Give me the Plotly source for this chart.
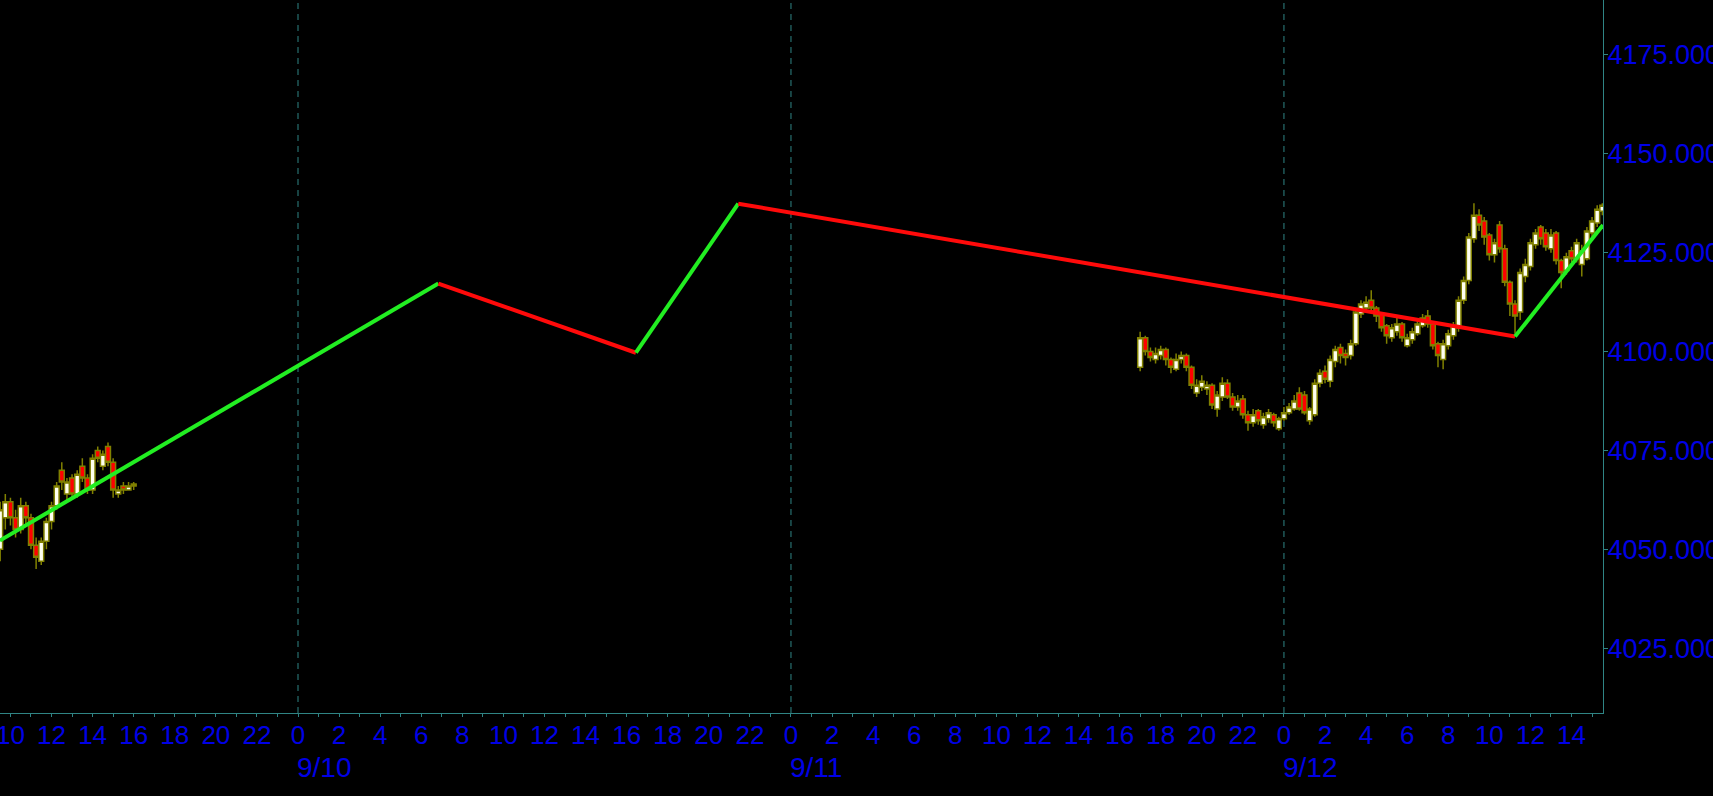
import pandas as pd
import plotly.graph_objects as go

# --------------------------------------
# Data (15 minute bars)
# --------------------------------------

# Friday 9/9 session, first bar 09:30
fri_start = "2022-09-09 09:30"
fri_open = [4050, 4058, 4062, 4058, 4055, 4061, 4058, 4051, 4047, 4052, 4057, 4061, 4070, 4064,
            4068, 4064, 4071, 4068, 4065, 4075, 4071, 4076, 4072, 4064, 4066, 4065, 4066]
fri_high = [4062, 4064, 4063, 4060, 4063, 4062, 4059, 4053, 4053, 4058, 4062, 4067, 4072, 4068,
            4069, 4070, 4073, 4069, 4074, 4076, 4075, 4077, 4073, 4066, 4067, 4067, 4067]
fri_low = [4047, 4055, 4056, 4053, 4054, 4056, 4050, 4045, 4046, 4050, 4055, 4060, 4065, 4062,
           4063, 4063, 4067, 4064, 4064, 4072, 4070, 4071, 4063, 4063, 4064, 4065, 4065]
fri_close = [4060, 4062, 4058, 4055, 4061, 4058, 4051, 4048, 4052, 4057, 4061, 4066, 4067, 4067,
             4064, 4069, 4068, 4065, 4073, 4073, 4074, 4072, 4065, 4065, 4065, 4066, 4066.5]

# Sunday 9/11 evening -> Monday 9/12, first bar 17:00
mon_start = "2022-09-11 17:00"
mon_open = [4096, 4103.5, 4100, 4098, 4099, 4100.5, 4098, 4095.5, 4098, 4099,
            4096, 4089.5, 4091, 4090.5, 4091.5, 4085.5, 4088.5, 4092, 4088.5, 4086,
            4088, 4084, 4082, 4085, 4081.5, 4083, 4084, 4080.5, 4083, 4084.5,
            4085.5, 4089.5, 4089, 4082.5, 4084, 4092, 4095, 4092.5, 4097.5, 4101,
            4099.5, 4099, 4102, 4109.5, 4111, 4113, 4111, 4109.5, 4106.5, 4103.5,
            4105, 4107, 4101.5, 4103, 4104.5, 4106.5, 4109, 4107, 4102, 4098,
            4101.5, 4104, 4106, 4113, 4118, 4128.5, 4134.5, 4133, 4129.5, 4124.5,
            4132, 4126, 4117.5, 4112, 4110, 4119, 4121.5, 4127, 4131.5, 4130,
            4126, 4130, 4123, 4120.5, 4125.5, 4123.5, 4122, 4123.5, 4130, 4132.5,
            4135.5]
mon_high = [4105, 4104, 4101, 4101, 4101.5, 4101, 4098.5, 4099.5, 4100, 4099.5,
            4096.5, 4093, 4094, 4092.5, 4092, 4090, 4093.5, 4093, 4089.5, 4089,
            4089, 4085, 4085.5, 4085.5, 4084.5, 4085.5, 4084.5, 4083.5, 4086, 4087,
            4089, 4091, 4090, 4086, 4093, 4095.5, 4096.5, 4099, 4101.5, 4102,
            4100.5, 4103, 4110.5, 4113, 4114, 4115.5, 4111.5, 4110, 4107, 4107,
            4108.5, 4107.5, 4104.5, 4106, 4108, 4109.5, 4110.5, 4107.5, 4102.5, 4103,
            4105.5, 4107.5, 4114, 4119, 4130, 4137.5, 4136, 4134, 4130, 4128.5,
            4133, 4127, 4118, 4113, 4121, 4123.5, 4128.5, 4131, 4132, 4131,
            4131, 4130.5, 4123.5, 4125, 4126.5, 4128.5, 4127, 4131.5, 4134, 4137,
            4137.5]
mon_low = [4095, 4099, 4097.5, 4097, 4098, 4096.5, 4094.5, 4095, 4097, 4095,
           4090.5, 4088.5, 4090, 4089, 4085.5, 4083.5, 4087.5, 4088, 4085, 4085,
           4083, 4080, 4081, 4081.5, 4080.5, 4082, 4081, 4080, 4082.5, 4084,
           4085, 4085, 4084, 4081.5, 4083.5, 4091, 4092, 4091, 4096, 4097,
           4096.5, 4098, 4101.5, 4108.5, 4110, 4110, 4107.5, 4105, 4102, 4102.5,
           4104, 4102.5, 4101, 4102, 4104, 4106, 4106, 4100.5, 4096, 4095.5,
           4100.5, 4103, 4105, 4112, 4117, 4127.5, 4130.5, 4127, 4123, 4122.5,
           4125, 4116.5, 4109, 4104.5, 4108, 4117.5, 4120.5, 4126, 4127, 4125.5,
           4125, 4122, 4116, 4119.5, 4122.5, 4122.5, 4119, 4123, 4129, 4131.5,
           4134.5]
mon_close = [4103.5, 4100, 4098.5, 4099.5, 4100.5, 4098, 4096, 4098, 4099, 4096,
             4091.5, 4091.5, 4092.5, 4091.5, 4086.5, 4089, 4092, 4088.5, 4086, 4087.5,
             4084, 4082, 4084, 4082.5, 4083.5, 4084.5, 4082, 4083, 4084.5, 4086,
             4087.5, 4085.5, 4084.5, 4085.5, 4092, 4094.5, 4093, 4098, 4100.5, 4099,
             4098.5, 4102, 4110, 4112, 4112.5, 4111, 4109, 4106, 4104, 4106,
             4107, 4103.5, 4103.5, 4105, 4107, 4108.5, 4107, 4101.5, 4099, 4102,
             4104.5, 4106.5, 4113, 4118, 4129, 4134.5, 4132, 4129, 4124.5, 4127.5,
             4126, 4117.5, 4112, 4109, 4120, 4122, 4127.5, 4130, 4128.5, 4126.5,
             4129.5, 4123, 4120, 4124, 4123.5, 4127.5, 4125.5, 4130.5, 4133, 4136,
             4137]

# swing (zigzag) line
zz_times = ["2022-09-09 09:29", "2022-09-10 06:50", "2022-09-10 16:27",
            "2022-09-10 21:26", "2022-09-12 11:15", "2022-09-12 15:32"]
zz_values = [4052.2, 4117.2, 4099.7, 4137.4, 4103.8, 4132.0]

# axis labels
price_ticks = [4025, 4050, 4075, 4100, 4125, 4150, 4175]
day_dates = ["2022-09-10", "2022-09-11", "2022-09-12"]
day_labels = ["9/10", "9/11", "9/12"]

x_range = ["2022-09-09 09:29:30", "2022-09-12 15:32:00"]
y_range = [4008.6, 4188.9]

# --------------------------------------
# Styles
# --------------------------------------
teal = "#2f8484"
blue = "#0000e6"
olive = "#808000"
up_col = "#22ee22"
down_col = "#ff0a0a"

fig = go.Figure()

for start, o, h, l, c in [(fri_start, fri_open, fri_high, fri_low, fri_close),
                          (mon_start, mon_open, mon_high, mon_low, mon_close)]:
    times = pd.date_range(start, periods=len(o), freq="15min")
    fig.add_trace(go.Candlestick(
        x=times, open=o, high=h, low=l, close=c,
        increasing=dict(line=dict(color=olive, width=1.5), fillcolor="#fffff0"),
        decreasing=dict(line=dict(color=olive, width=1.5), fillcolor="#ff0000"),
        whiskerwidth=0,
        showlegend=False,
        hoverinfo="skip"
    ))

# zigzag segments, green when rising, red when falling
for i in range(len(zz_values) - 1):
    color = up_col if zz_values[i + 1] > zz_values[i] else down_col
    fig.add_trace(go.Scatter(
        x=zz_times[i:i + 2], y=zz_values[i:i + 2],
        mode="lines",
        line=dict(color=color, width=4),
        showlegend=False,
        hoverinfo="skip"
    ))

# hourly ticks, labels every 2 hours
tick_times = pd.date_range("2022-09-09 10:00", "2022-09-12 15:00", freq="1h")
tick_text = [str(t.hour) if t.hour % 2 == 0 else "" for t in tick_times]

# day separators
for d in day_dates:
    fig.add_shape(type="line", xref="x", yref="paper", x0=d, x1=d, y0=0, y1=1,
                  line=dict(color=teal, width=1, dash="6px,5px"), layer="below")

for d, lab in zip(day_dates, day_labels):
    fig.add_annotation(x=d, y=-0.077, xref="x", yref="paper", text=lab,
                       showarrow=False, xanchor="left", yanchor="middle", xshift=-3,
                       font=dict(family="Liberation Sans", size=28, color=blue))

fig.update_layout(
    width=1713,
    height=796,
    margin=dict(l=0, r=110, t=0, b=83),
    paper_bgcolor="black",
    plot_bgcolor="black",
    boxgap=0.05,
    boxgroupgap=0,
    xaxis=dict(
        type="date",
        range=x_range,
        rangeslider=dict(visible=False),
        tickmode="array",
        tickvals=tick_times,
        ticktext=tick_text,
        ticks="outside",
        ticklen=3,
        tickcolor=teal,
        showline=True,
        linecolor=teal,
        linewidth=1,
        showgrid=False,
        zeroline=False,
        automargin=False,
        ticklabeloverflow="allow",
        ticklabelstandoff=-4,
        tickfont=dict(family="Liberation Sans", size=26, color=blue),
    ),
    yaxis=dict(
        side="right",
        range=y_range,
        tickmode="array",
        tickvals=price_ticks,
        tickformat=".3f",
        ticks="outside",
        ticklen=4,
        tickcolor=teal,
        showline=True,
        linecolor=teal,
        linewidth=1,
        showgrid=False,
        zeroline=False,
        automargin=False,
        ticklabeloverflow="allow",
        ticklabelstandoff=-6,
        tickfont=dict(family="Liberation Sans", size=27, color=blue),
    ),
)

fig.write_html("out.html", config={"displayModeBar": False},
               post_script="document.body.style.margin='0';")
